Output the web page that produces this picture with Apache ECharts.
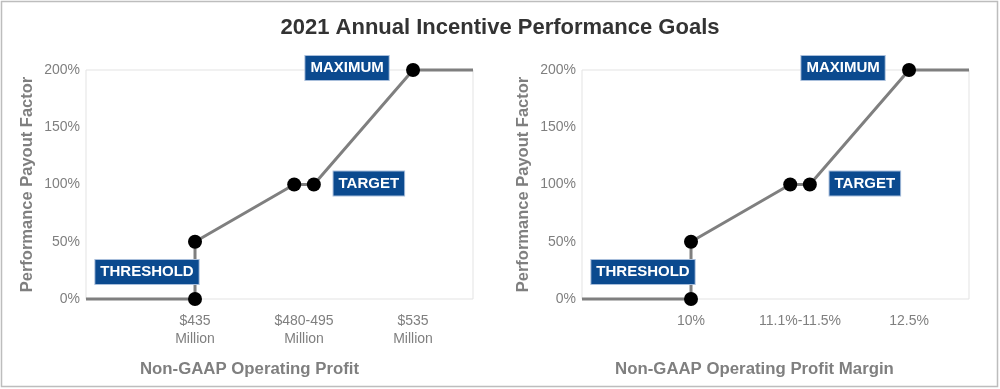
<!DOCTYPE html>
<html>
<head>
<meta charset="utf-8">
<script src="https://cdn.jsdelivr.net/npm/echarts@6/dist/echarts.min.js"></script>
<style>
html,body{margin:0;padding:0;background:#fff;}
#c{width:1000px;height:389px;}
</style>
</head>
<body>
<div id="c"></div>
<script>
// ---- data ----
const title = '2021 Annual Incentive Performance Goals';
const yTitle = 'Performance Payout Factor';
const yTicks = [0, 50, 100, 150, 200];

// Left chart: Non-GAAP Operating Profit (schematic positions)
const leftXTitle = 'Non-GAAP Operating Profit';
const leftTickPos = [1, 2, 3];
const leftTickLabels = ['$435\nMillion', '$480-495\nMillion', '$535\nMillion'];
const leftLineX = [0, 1, 1, 1.91, 2.09, 3, 3.55];
const leftLineY = [0, 0, 50, 100, 100, 200, 200];
const leftPointX = [1, 1, 1.91, 2.09, 3];
const leftPointY = [0, 50, 100, 100, 200];

// Right chart: Non-GAAP Operating Profit Margin
const rightXTitle = 'Non-GAAP Operating Profit Margin';
const rightTickPos = [1, 2, 3];
const rightTickLabels = ['10%', '11.1%-11.5%', '12.5%'];
const rightLineX = [0, 1, 1, 1.91, 2.09, 3, 3.55];
const rightLineY = [0, 0, 50, 100, 100, 200, 200];
const rightPointX = [1, 1, 1.91, 2.09, 3];
const rightPointY = [0, 50, 100, 100, 200];

// annotation labels: index into points
const annotations = [
  {name: 'THRESHOLD', point: 0},
  {name: 'TARGET', point: 3},
  {name: 'MAXIMUM', point: 4}
];
// ---- end data ----

const labelOffsets = {THRESHOLD: [-48, -27], TARGET: [55, -1], MAXIMUM: [-66, -2]};
const GRAY = '#7f7f7f';
const NAVY = '#0b4a8f';
const sans = '"Liberation Sans", Arial, sans-serif';

function pairs(xs, ys) { return xs.map((x, i) => [x, ys[i]]); }

function pointData(xs, ys) {
  return xs.map((x, i) => {
    const ann = annotations.find(a => a.point === i);
    const item = {value: [x, ys[i]]};
    if (ann) {
      item.label = {
        show: true,
        formatter: ann.name,
        position: 'inside',
        offset: labelOffsets[ann.name],
        color: '#fff',
        fontFamily: sans,
        fontWeight: 'bold',
        fontSize: 15,
        lineHeight: 16,
        backgroundColor: NAVY,
        borderColor: '#a8bedb',
        borderWidth: 1,
        padding: [4, 5, 4, 5]
      };
    }
    return item;
  });
}

function xAxis(idx, tickPos, tickLabels, name, shiftPad) {
  return {
    type: 'value', gridIndex: idx, min: 0, max: 3.55,
    name: name, nameLocation: 'middle', nameGap: 62,
    nameTextStyle: {color: GRAY, fontFamily: sans, fontWeight: 'bold', fontSize: 16.8, padding: [0, shiftPad, 0, 0]},
    axisLine: {show: false}, axisTick: {show: false}, splitLine: {show: false},
    axisLabel: {
      customValues: tickPos,
      formatter: v => { const k = tickPos.indexOf(Math.round(v * 100) / 100); return k >= 0 ? tickLabels[k] : ''; },
      color: GRAY, fontFamily: sans, fontSize: 14, lineHeight: 18, margin: 13
    }
  };
}

function yAxis(idx) {
  return {
    type: 'value', gridIndex: idx, min: 0, max: 200, interval: 50,
    name: yTitle, nameLocation: 'middle', nameGap: 50, nameRotate: 90,
    nameTextStyle: {color: GRAY, fontFamily: sans, fontWeight: 'bold', fontSize: 16.5},
    axisLine: {show: false}, axisTick: {show: false}, splitLine: {show: false},
    axisLabel: {formatter: '{value}%', color: GRAY, fontFamily: sans, fontSize: 14, margin: 6}
  };
}

function lineSeries(idx, xs, ys) {
  return {
    type: 'line', xAxisIndex: idx, yAxisIndex: idx, data: pairs(xs, ys),
    showSymbol: false, symbol: 'none', silent: true,
    lineStyle: {color: GRAY, width: 3, opacity: 1}, z: 2, clip: false
  };
}
function pointSeries(idx, xs, ys) {
  return {
    type: 'scatter', xAxisIndex: idx, yAxisIndex: idx, data: pointData(xs, ys),
    symbolSize: 14, itemStyle: {color: '#000', opacity: 1}, z: 3, clip: false
  };
}

const chart = echarts.init(document.getElementById('c'), null, {renderer: 'canvas'});
chart.setOption({
  animation: false,
  backgroundColor: '#fff',
  title: {
    text: title, left: 'center', top: 12,
    textStyle: {color: '#333', fontFamily: sans, fontWeight: 'bold', fontSize: 22}
  },
  graphic: [{
    type: 'rect', shape: {x: 1.5, y: 1.5, width: 996, height: 385},
    style: {fill: 'none', stroke: '#bdbdbd', lineWidth: 1.5}, silent: true, z: -1
  }],
  grid: [
    {left: 86, right: 527, top: 70, bottom: 90, show: true, borderColor: '#e3e3e3', borderWidth: 1},
    {left: 582, right: 31, top: 70, bottom: 90, show: true, borderColor: '#e3e3e3', borderWidth: 1}
  ],
  xAxis: [xAxis(0, leftTickPos, leftTickLabels, leftXTitle, 60), xAxis(1, rightTickPos, rightTickLabels, rightXTitle, 42)],
  yAxis: [yAxis(0), yAxis(1)],
  series: [
    lineSeries(0, leftLineX, leftLineY), pointSeries(0, leftPointX, leftPointY),
    lineSeries(1, rightLineX, rightLineY), pointSeries(1, rightPointX, rightPointY)
  ]
});
</script>
</body>
</html>
